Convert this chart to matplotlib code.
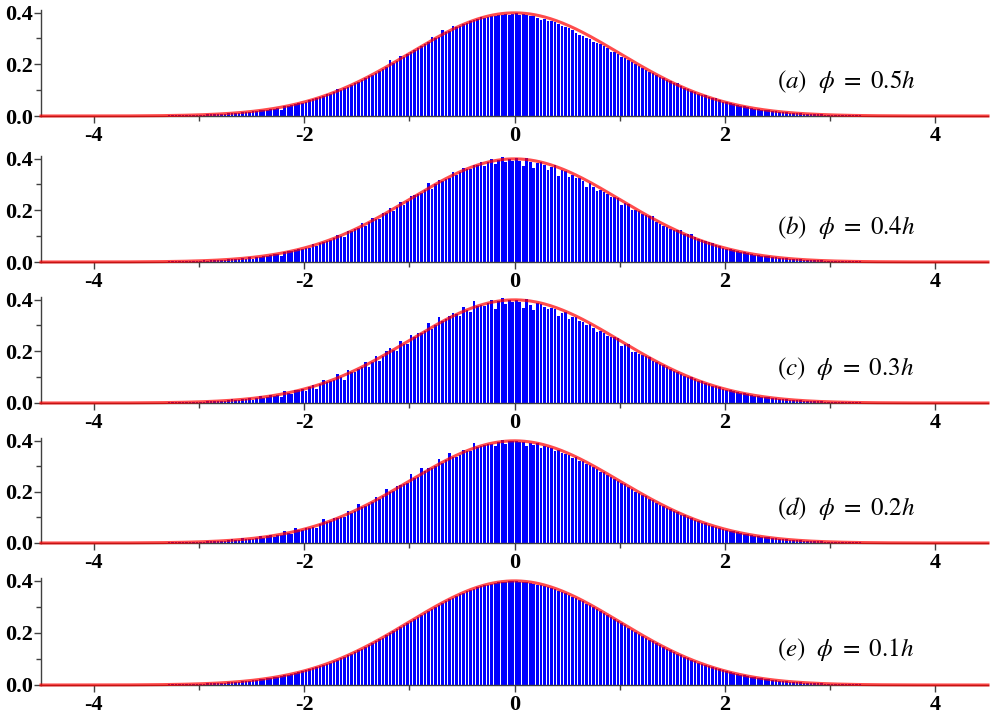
import numpy as np
import matplotlib
matplotlib.use("Agg")
import matplotlib.pyplot as plt
from matplotlib.ticker import MultipleLocator, FormatStrFormatter

plt.rcParams["font.family"] = ["Liberation Serif", "DejaVu Serif"]
plt.rcParams["mathtext.fontset"] = "stix"
plt.rcParams["axes.unicode_minus"] = False

# histogram grid: 1/30-wide bins covering -3.3 .. 3.3
BIN_WIDTH = 1 / 30
X_LO = -3.3
# theoretical density drawn on top of every histogram
MU, SIGMA = 0.0, 1.0

labels = [r"$(a)\ \ \phi\ =\ 0.5h$", r"$(b)\ \ \phi\ =\ 0.4h$", r"$(c)\ \ \phi\ =\ 0.3h$",
          r"$(d)\ \ \phi\ =\ 0.2h$", r"$(e)\ \ \phi\ =\ 0.1h$"]

# bar heights (density), left to right
dens_a = [
    .002, .002, .002, .003, .003, .003, .003, .004, .004,
    .005, .005, .006, .006, .007, .008, .008, .009, .010, .011,
    .012, .013, .014, .015, .017, .018, .020, .022, .023, .025,
    .027, .029, .032, .025, .037, .040, .043, .046, .049, .052,
    .056, .060, .064, .068, .072, .077, .087, .086, .091, .105,
    .102, .108, .114, .120, .126, .133, .139, .146, .153, .160,
    .168, .175, .183, .190, .216, .206, .214, .234, .230, .238,
    .246, .254, .262, .270, .278, .286, .304, .301, .304, .332,
    .323, .330, .347, .343, .349, .355, .361, .366, .371, .375,
    .382, .380, .383, .386, .388, .390, .391, .393, .392, .394,
    .397, .392, .393, .390, .388, .385, .378, .372, .374, .368,
    .366, .363, .356, .350, .344, .340, .331, .320, .312, .309,
    .300, .296, .288, .282, .277, .270, .262, .246, .246, .240,
    .228, .223, .216, .209, .201, .194, .186, .179, .172, .165,
    .158, .152, .146, .139, .134, .129, .128, .116, .108, .103,
    .097, .091, .086, .082, .081, .073, .069, .068, .060, .056,
    .053, .049, .046, .043, .040, .037, .034, .032, .029, .027,
    .025, .023, .022, .020, .018, .017, .015, .014, .013, .012,
    .011, .010, .009, .008, .008, .007, .006, .006, .005, .005,
    .004, .004, .003, .003, .003, .003, .002, .002, .002,
]
dens_b = [
    .002, .002, .002, .003, .002, .003, .004, .003, .005,
    .004, .006, .005, .007, .006, .008, .009, .008, .011, .010,
    .013, .012, .015, .013, .018, .010, .021, .020, .024, .023,
    .027, .030, .031, .024, .038, .041, .044, .045, .050, .051,
    .056, .054, .070, .063, .073, .076, .082, .085, .092, .105,
    .102, .096, .120, .119, .126, .131, .151, .140, .153, .170,
    .166, .167, .191, .189, .208, .198, .213, .234, .222, .237,
    .254, .258, .262, .265, .279, .306, .282, .300, .317, .314,
    .322, .325, .349, .335, .348, .365, .359, .360, .377, .374,
    .387, .373, .386, .400, .380, .393, .406, .388, .397, .390,
    .402, .390, .372, .402, .385, .364, .381, .385, .376, .356,
    .368, .376, .334, .355, .351, .330, .335, .325, .325, .315,
    .292, .305, .290, .274, .279, .270, .264, .253, .250, .248,
    .219, .228, .225, .200, .202, .197, .187, .182, .177, .177,
    .155, .146, .138, .134, .129, .125, .123, .123, .110, .109,
    .108, .095, .090, .087, .082, .076, .072, .065, .060, .056,
    .052, .049, .046, .043, .040, .037, .034, .032, .029, .027,
    .025, .023, .022, .020, .018, .017, .015, .014, .013, .012,
    .011, .010, .009, .008, .008, .007, .006, .006, .005, .005,
    .004, .004, .003, .003, .003, .003, .002, .002, .002,
]
dens_c = [
    .002, .002, .002, .002, .003, .003, .004, .004, .003,
    .005, .005, .008, .006, .007, .007, .008, .009, .010, .015,
    .012, .013, .017, .015, .020, .012, .020, .028, .019, .025,
    .032, .029, .032, .024, .045, .040, .033, .051, .049, .053,
    .048, .060, .069, .053, .072, .089, .081, .086, .090, .112,
    .102, .088, .128, .120, .121, .133, .139, .158, .139, .160,
    .183, .163, .183, .200, .213, .206, .202, .240, .230, .228,
    .262, .254, .270, .270, .278, .308, .286, .301, .331, .316,
    .323, .335, .349, .343, .338, .373, .361, .351, .393, .375,
    .379, .375, .387, .400, .364, .395, .407, .382, .398, .392,
    .398, .390, .369, .402, .380, .360, .385, .382, .372, .364,
    .368, .364, .338, .350, .353, .325, .333, .334, .317, .312,
    .302, .305, .290, .274, .279, .270, .261, .257, .254, .251,
    .219, .230, .228, .197, .198, .189, .184, .181, .177, .164,
    .158, .151, .146, .138, .133, .123, .119, .113, .104, .102,
    .100, .091, .087, .084, .077, .073, .067, .064, .060, .056,
    .052, .049, .046, .042, .040, .037, .034, .032, .029, .027,
    .025, .023, .022, .020, .018, .017, .015, .014, .013, .012,
    .011, .010, .009, .008, .008, .007, .006, .006, .005, .005,
    .004, .004, .003, .003, .003, .003, .002, .002, .002,
]
dens_d = [
    .002, .002, .002, .003, .002, .003, .003, .004, .004,
    .005, .004, .008, .006, .007, .007, .008, .009, .010, .015,
    .011, .013, .018, .015, .015, .015, .021, .026, .021, .027,
    .033, .025, .032, .030, .045, .040, .035, .058, .049, .051,
    .057, .058, .062, .058, .073, .092, .081, .086, .097, .099,
    .102, .100, .126, .119, .126, .151, .139, .143, .153, .160,
    .180, .170, .183, .212, .200, .205, .224, .225, .230, .236,
    .270, .254, .256, .294, .280, .294, .294, .301, .329, .313,
    .323, .350, .337, .336, .343, .365, .361, .358, .391, .375,
    .379, .383, .385, .386, .380, .395, .404, .387, .398, .398,
    .398, .396, .393, .378, .392, .383, .390, .372, .380, .374,
    .370, .358, .362, .352, .346, .345, .332, .334, .322, .320,
    .308, .306, .297, .290, .278, .276, .266, .258, .250, .243,
    .233, .229, .218, .212, .201, .197, .186, .182, .171, .167,
    .158, .150, .146, .137, .132, .124, .121, .111, .108, .100,
    .097, .089, .086, .079, .077, .070, .068, .062, .060, .054,
    .052, .048, .046, .042, .040, .036, .034, .031, .029, .027,
    .025, .023, .022, .020, .018, .017, .015, .014, .013, .012,
    .011, .010, .009, .008, .008, .007, .006, .006, .005, .005,
    .004, .004, .003, .003, .003, .003, .002, .002, .002,
]
dens_e = [
    .002, .002, .002, .003, .003, .003, .003, .004, .004,
    .005, .005, .006, .006, .007, .008, .008, .009, .010, .011,
    .012, .013, .014, .015, .017, .018, .020, .022, .023, .025,
    .027, .029, .032, .034, .037, .040, .043, .046, .049, .052,
    .056, .060, .064, .068, .072, .077, .081, .086, .091, .097,
    .102, .108, .114, .120, .126, .133, .139, .146, .153, .160,
    .167, .175, .182, .190, .198, .206, .214, .222, .230, .237,
    .245, .253, .261, .269, .277, .285, .293, .300, .307, .315,
    .322, .329, .335, .342, .348, .354, .359, .365, .369, .374,
    .378, .382, .385, .388, .391, .393, .395, .396, .397, .397,
    .398, .396, .394, .393, .391, .388, .385, .382, .378, .374,
    .370, .366, .361, .356, .351, .345, .339, .333, .326, .320,
    .312, .306, .298, .291, .283, .275, .268, .260, .252, .244,
    .236, .228, .220, .212, .204, .197, .189, .182, .174, .167,
    .160, .153, .146, .139, .133, .126, .120, .114, .108, .102,
    .097, .091, .086, .081, .077, .072, .068, .064, .060, .056,
    .052, .049, .046, .043, .040, .037, .034, .032, .029, .027,
    .025, .023, .022, .020, .018, .017, .015, .014, .013, .012,
    .011, .010, .009, .008, .008, .007, .006, .006, .005, .005,
    .004, .004, .003, .003, .003, .003, .002, .002, .002,
]
panels = [dens_a, dens_b, dens_c, dens_d, dens_e]

# axes placement in pixels (top, bottom) of the 991x715 figure
W, H = 991, 715
LEFT, RIGHT = 41, 988
rows = [(10, 116), (156, 262), (297, 403), (438, 543), (578, 685)]

fig = plt.figure(figsize=(W / 100, H / 100), dpi=100)

xs = np.linspace(-4.5, 4.5, 800)
pdf = np.exp(-(xs - MU) ** 2 / (2 * SIGMA ** 2)) / (SIGMA * np.sqrt(2 * np.pi))

for dens, label, (top, bot) in zip(panels, labels, rows):
    ax = fig.add_axes([LEFT / W, 1 - bot / H, (RIGHT - LEFT) / W, (bot - top) / H])
    centers = X_LO + BIN_WIDTH * (np.arange(len(dens)) + 0.5)
    ax.bar(centers, dens, width=BIN_WIDTH * 0.74, color="#0000ff", linewidth=0)
    ax.plot(xs, pdf, color="red", alpha=0.7, lw=2.2, zorder=3, clip_on=False)

    ax.set_xlim(-4.5, 4.5)
    ax.set_ylim(0, 0.41)
    for side in ("top", "right"):
        ax.spines[side].set_visible(False)
    for side in ("left", "bottom"):
        ax.spines[side].set_color("#404040")
        ax.spines[side].set_linewidth(1.0)

    ax.xaxis.set_major_locator(MultipleLocator(2))
    ax.xaxis.set_minor_locator(MultipleLocator(1))
    ax.yaxis.set_major_locator(MultipleLocator(0.2))
    ax.yaxis.set_minor_locator(MultipleLocator(0.1))
    ax.xaxis.set_major_formatter(FormatStrFormatter("%d"))
    ax.yaxis.set_major_formatter(FormatStrFormatter("%.1f"))
    ax.tick_params(which="major", direction="out", length=5, width=1,
                   color="#404040", labelsize=16)
    ax.tick_params(which="minor", direction="out", length=3.5, width=1, color="#404040")
    ax.tick_params(axis="x", pad=2)
    ax.tick_params(axis="y", pad=1)
    for lab in ax.get_xticklabels() + ax.get_yticklabels():
        lab.set_fontweight("bold")

    ax.text(0.777, 0.33, label, transform=ax.transAxes, fontsize=18,
            ha="left", va="center")

fig.savefig("out.png", dpi=100)
